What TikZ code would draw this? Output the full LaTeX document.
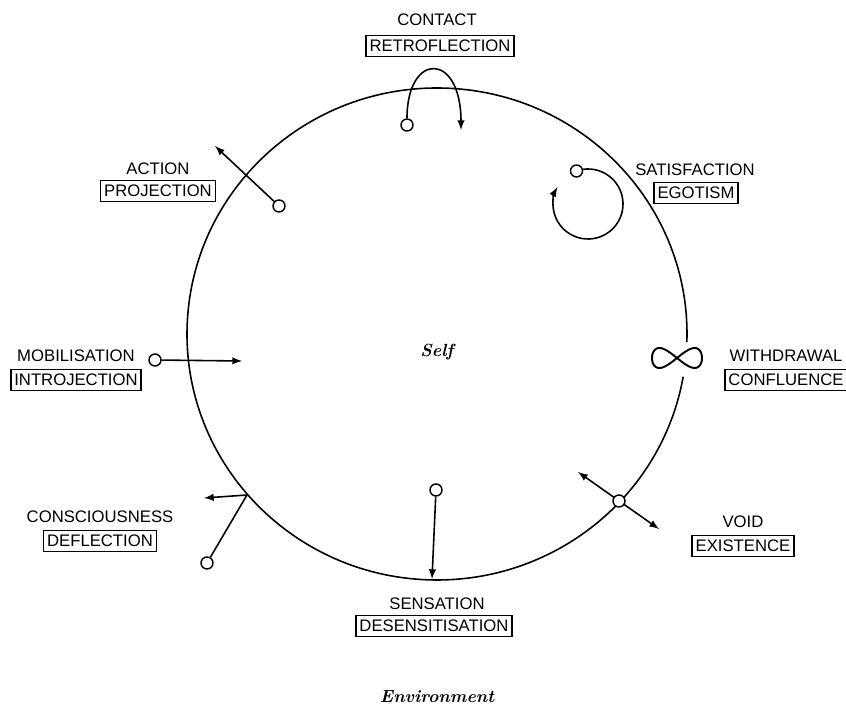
\documentclass[tikz,border=0pt]{standalone}
\usepackage{fontspec}
\newfontfamily\labelfont{Liberation Sans}
\tikzset{
  stage/.style={font=\labelfont\fontsize{9.5}{11}\selectfont, inner sep=1pt},
  phase/.style={stage, draw, line width=0.9pt, inner xsep=2pt, inner ysep=2.5pt, text height=6.8pt, text depth=0pt},
  dot/.style={circle, draw, fill=white, inner sep=0pt, minimum size=0.24cm, line width=0.8pt},
}
\begin{document}
\begin{tikzpicture}[>=latex, line width=0.9pt]
\useasboundingbox (-8.74,-7.5) rectangle (8.18,6.68);
% the self boundary, open at withdrawal
\draw (-1.9:5 and 4.92) arc[start angle=-1.9, end angle=350, x radius=5, y radius=4.92];
\node[font=\bfseries\itshape] (self) at (0,-0.36) {Self};
\node[font=\bfseries\itshape] (environment) at (0,-7.26) {Environment};

% stages and their interruptions
\node[stage] (contact) at (0,6.28) {CONTACT};
\node[phase] (retroflection) at (0.06,5.76) {RETROFLECTION};
\node[stage] (satisfaction) at (5.16,3.28) {SATISFACTION};
\node[phase] (egotism) at (5.18,2.82) {EGOTISM};
\node[stage] (withdrawal) at (6.98,-0.44) {WITHDRAWAL};
\node[phase] (confluence) at (6.98,-0.92) {CONFLUENCE};
\node[stage] (void) at (6.12,-3.76) {VOID};
\node[phase] (existence) at (6.12,-4.24) {EXISTENCE};
\node[stage] (sensation) at (0,-5.4) {SENSATION};
\node[phase] (desensitisation) at (-0.06,-5.84) {DESENSITISATION};
\node[stage] (consciousness) at (-6.74,-3.66) {CONSCIOUSNESS};
\node[phase] (deflection) at (-6.74,-4.14) {DEFLECTION};
\node[stage] (mobilisation) at (-7.22,-0.44) {MOBILISATION};
\node[phase] (introjection) at (-7.22,-0.92) {INTROJECTION};
\node[stage] (action) at (-5.58,3.3) {ACTION};
\node[phase] (projection) at (-5.58,2.86) {PROJECTION};

% retroflection
\node[dot] (retro-dot) at (-0.6,4.18) {};
\coordinate (retro-tip) at (0.48,4.08);
\draw[->] (retro-dot) .. controls (-0.6,5.65) and (0.48,5.65) .. (retro-tip);

% egotism
\coordinate (ego-c) at (3.02,2.6);
\draw[->] (ego-c) ++(98:0.7) arc[start angle=98, end angle=-209, radius=0.7];
\node[dot] (ego-dot) at (2.79,3.26) {};

% confluence
\draw[line width=1.1pt] plot[domain=0:355, samples=72, smooth cycle] ({4.8+0.5*cos(\x)},{-0.48+0.4*sin(\x)*cos(\x)});

% existence
\coordinate (void-in) at (2.82,-2.76);
\coordinate (void-out) at (4.44,-3.9);
\draw[<->] (void-in) -- (void-out);
\node[dot] (void-dot) at (3.64,-3.34) {};

% desensitisation
\node[dot] (sens-dot) at (-0.02,-3.12) {};
\coordinate (sens-tip) at (-0.1,-4.9);
\draw[->] (sens-dot) -- (sens-tip);

% deflection
\node[dot] (defl-dot) at (-4.6,-4.58) {};
\coordinate (defl-j) at (-3.8,-3.22);
\coordinate (defl-tip) at (-4.66,-3.28);
\draw (defl-dot) -- (defl-j);
\draw[->] (defl-j) -- (defl-tip);

% introjection
\node[dot] (mob-dot) at (-5.64,-0.52) {};
\coordinate (mob-tip) at (-3.9,-0.54);
\draw[->] (mob-dot) -- (mob-tip);

% projection
\node[dot] (act-dot) at (-3.16,2.56) {};
\coordinate (act-tip) at (-4.44,3.76);
\draw[->] (act-dot) -- (act-tip);
\end{tikzpicture}
\end{document}
